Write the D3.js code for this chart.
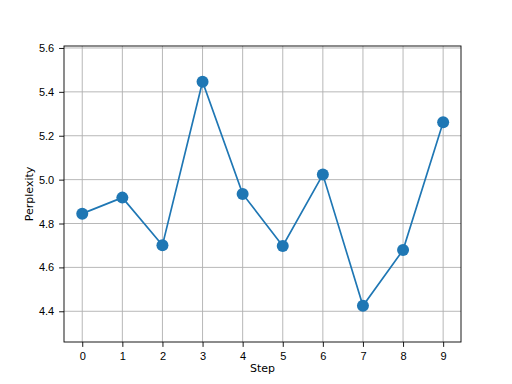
<!DOCTYPE html>
<html>
<head>
<meta charset="utf-8">
<script src="https://cdn.jsdelivr.net/npm/d3@7"></script>
<style>
  body { margin: 0; background: #fff; }
  svg { font-family: "DejaVu Sans", sans-serif; }
  .axis text { font-size: 11px; fill: #000; }
  .axis path, .axis line { stroke: #000; stroke-width: 0.9; }
  .grid line { stroke: #b0b0b0; stroke-width: 0.9; }
</style>
</head>
<body>
<div id="chart"></div>
<script>
// data
var steps = [0, 1, 2, 3, 4, 5, 6, 7, 8, 9];
var perplexity = [4.845, 4.918, 4.701, 5.446, 4.935, 4.698, 5.023, 4.425, 4.679, 5.261];
var yTicks = [4.4, 4.6, 4.8, 5.0, 5.2, 5.4, 5.6];

var data = steps.map(function (s, i) { return { step: s, value: perplexity[i] }; });

var svg = d3.select("#chart")
    .append("svg")
    .attr("width", 512)
    .attr("height", 384);

var margin = { top: 46, right: 51, bottom: 42, left: 64 },
    width = 512 - margin.left - margin.right,
    height = 384 - margin.top - margin.bottom;

var x = d3.scaleLinear()
    .domain([-0.455, 9.445])
    .range([0, width]);

var y = d3.scaleLinear()
    .domain([4.26, 5.609])
    .range([height, 0]);

var g = svg.append("g")
    .attr("transform", "translate(" + margin.left + "," + margin.top + ")");

// grid
g.append("g")
    .attr("class", "grid")
    .selectAll("line.gx")
    .data(steps)
    .enter().append("line")
    .attr("x1", function (d) { return x(d); })
    .attr("x2", function (d) { return x(d); })
    .attr("y1", 0)
    .attr("y2", height);

g.append("g")
    .attr("class", "grid")
    .selectAll("line.gy")
    .data(yTicks)
    .enter().append("line")
    .attr("x1", 0)
    .attr("x2", width)
    .attr("y1", function (d) { return y(d); })
    .attr("y2", function (d) { return y(d); });

var line = d3.line()
    .x(function (d) { return x(d.step); })
    .y(function (d) { return y(d.value); });

g.append("path")
    .datum(data)
    .attr("d", line)
    .style("fill", "none")
    .style("stroke", "#1f77b4")
    .style("stroke-width", 1.67);

g.selectAll(".dot")
    .data(data)
    .enter().append("circle")
    .attr("class", "dot")
    .attr("cx", function (d) { return x(d.step); })
    .attr("cy", function (d) { return y(d.value); })
    .attr("r", 6)
    .style("fill", "#1f77b4");

// frame
g.append("rect")
    .attr("width", width)
    .attr("height", height)
    .style("fill", "none")
    .style("stroke", "#000")
    .style("stroke-width", 0.9);

var xAxis = d3.axisBottom(x).tickValues(steps).tickSize(4.9).tickPadding(4.9).tickFormat(d3.format("d"));
var yAxis = d3.axisLeft(y).tickValues(yTicks).tickSize(4.9).tickPadding(4.9).tickFormat(d3.format(".1f"));

g.append("g")
    .attr("class", "axis axis--x")
    .attr("transform", "translate(0," + height + ")")
    .call(xAxis)
    .call(function (s) { s.select(".domain").remove(); });

g.append("g")
    .attr("class", "axis axis--y")
    .call(yAxis)
    .call(function (s) { s.select(".domain").remove(); });

svg.append("text")
    .attr("x", margin.left + width / 2)
    .attr("y", 372)
    .attr("text-anchor", "middle")
    .style("font-size", "11px")
    .text("Step");

svg.append("text")
    .attr("transform", "translate(33," + (margin.top + height / 2) + ") rotate(-90)")
    .attr("text-anchor", "middle")
    .style("font-size", "11px")
    .text("Perplexity");
</script>
</body>
</html>
